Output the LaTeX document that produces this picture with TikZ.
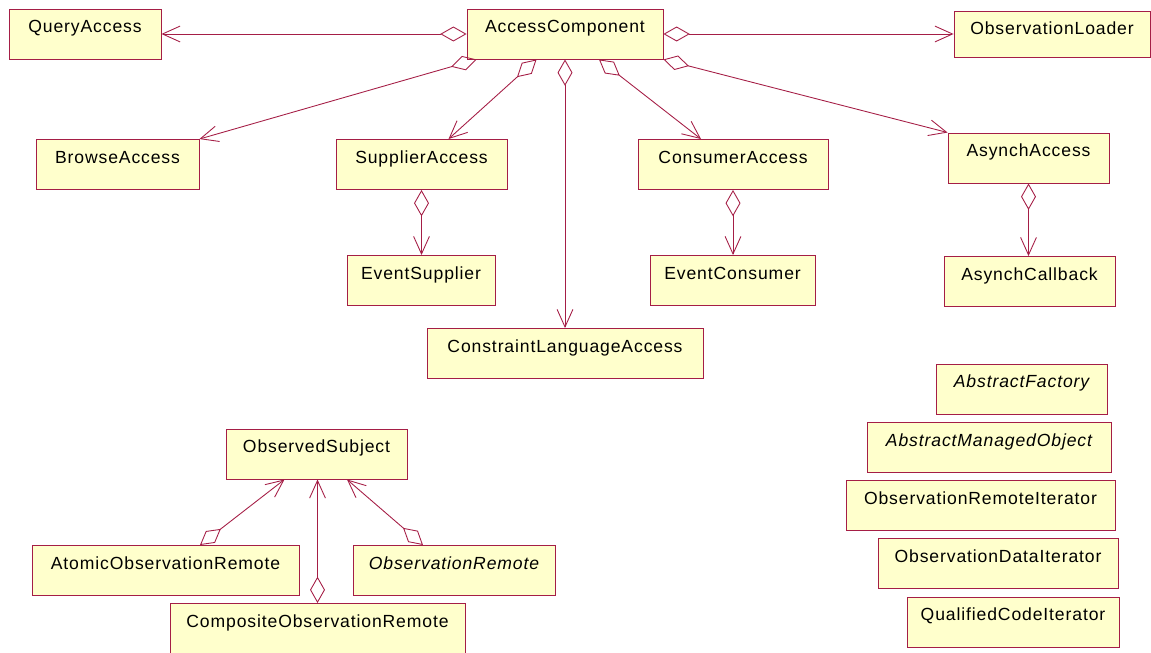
\documentclass[tikz,border=0pt]{standalone}
\usepackage{fontspec}
\newfontfamily\umlfont[LetterSpace=5]{Liberation Sans}
\usetikzlibrary{arrows.meta,calc}
\definecolor{umlline}{RGB}{165,30,70}
\definecolor{umlfill}{RGB}{255,255,204}
\tikzset{
  cls/.style={draw=umlline,fill=umlfill,line width=0.5pt,rectangle,
    inner xsep=0pt,inner ysep=0pt,text height=13.5pt,text depth=15pt,
    font=\umlfont\fontsize{10}{12}\selectfont},
  boxw/.style={minimum width=#1*0.02cm},
  agg/.style={draw=umlline,line width=0.5pt,
    {Diamond[open,length=15pt,width=8.5pt]}-{Straight Barb[length=10pt,width=9pt]}}
}
\begin{document}
\begin{tikzpicture}[x=0.02cm,y=-0.02cm]
      \useasboundingbox (0,0) rectangle (1151,652);
      % top row
      \node[cls,boxw=152] (qa) at (85,34) {QueryAccess}; % query access
      \node[cls,boxw=196] (ac) at (565,34) {AccessComponent}; % access component
      \node[cls,boxw=196,text depth=12.7pt] (ol) at (1052,34) {ObservationLoader}; % loader
      % second row
      \node[cls,boxw=163] (ba) at (117.5,164.5) {BrowseAccess}; % browse
      \node[cls,boxw=171] (sa) at (421.5,164.5) {SupplierAccess}; % supplier
      \node[cls,boxw=190] (ca) at (733,164.5) {ConsumerAccess}; % consumer
      \node[cls,boxw=161] (aa) at (1028.5,158) {AsynchAccess}; % asynch
      % third row
      \node[cls,boxw=148] (es) at (421,280.5) {EventSupplier}; % event supplier
      \node[cls,boxw=165] (ec) at (732.5,280.5) {EventConsumer}; % event consumer
      \node[cls,boxw=171] (acb) at (1029.5,281.5) {AsynchCallback}; % callback
      \node[cls,boxw=276] (cla) at (565,353.5) {ConstraintLanguageAccess}; % constraint language
      % right column
      \node[cls,boxw=171] (af) at (1021.5,389) {\itshape AbstractFactory}; % factory
      \node[cls,boxw=244] (amo) at (989,447.5) {\itshape AbstractManagedObject}; % managed object
      \node[cls,boxw=269] (ori) at (980.5,505.5) {ObservationRemoteIterator}; % remote iterator
      \node[cls,boxw=240] (odi) at (998,563.5) {ObservationDataIterator}; % data iterator
      \node[cls,boxw=212] (qci) at (1013,622) {QualifiedCodeIterator}; % code iterator
      % observed subject group
      \node[cls,boxw=181] (os) at (316.5,454) {ObservedSubject}; % subject
      \node[cls,boxw=267] (aor) at (165.5,570.5) {AtomicObservationRemote}; % atomic
      \node[cls,boxw=202] (or) at (454,570.5) {\itshape ObservationRemote}; % remote
      \node[cls,boxw=295] (cor) at (317.5,628.5) {CompositeObservationRemote}; % composite
      % aggregations from AccessComponent
      \draw[agg] (ac.west) -- (qa.east); % to query
      \draw[agg] (ac.east) -- (ol.west); % to loader
      \draw[agg] ($(ac.south west)+(10,0)$) -- (ba.north east); % to browse
      \draw[agg] ($(ac.south west)+(70,0)$) -- ($(sa.north)+(27,0)$); % to supplier
      \draw[agg] (ac.south) -- (ac.south |- cla.north); % to constraint language
      \draw[agg] ($(ac.south)+(34,0)$) -- ($(ca.north)+(-32,0)$); % to consumer
      \draw[agg] (ac.south east) -- (aa.north west); % to asynch
      \draw[agg] (sa.south) -- (sa.south |- es.north); % supplier
      \draw[agg] (ca.south) -- (ca.south |- ec.north); % consumer
      \draw[agg] (aa.south) -- (aa.south |- acb.north); % callback
      % aggregations to ObservedSubject
      \draw[agg] ($(aor.north)+(34.5,0)$) -- ($(os.south)+(-32,0)$); % atomic
      \draw[agg] (cor.north) -- (cor.north |- os.south); % composite
      \draw[agg] ($(or.north)+(-31,0)$) -- ($(os.south)+(30.5,0)$); % remote
\end{tikzpicture}
\end{document}
